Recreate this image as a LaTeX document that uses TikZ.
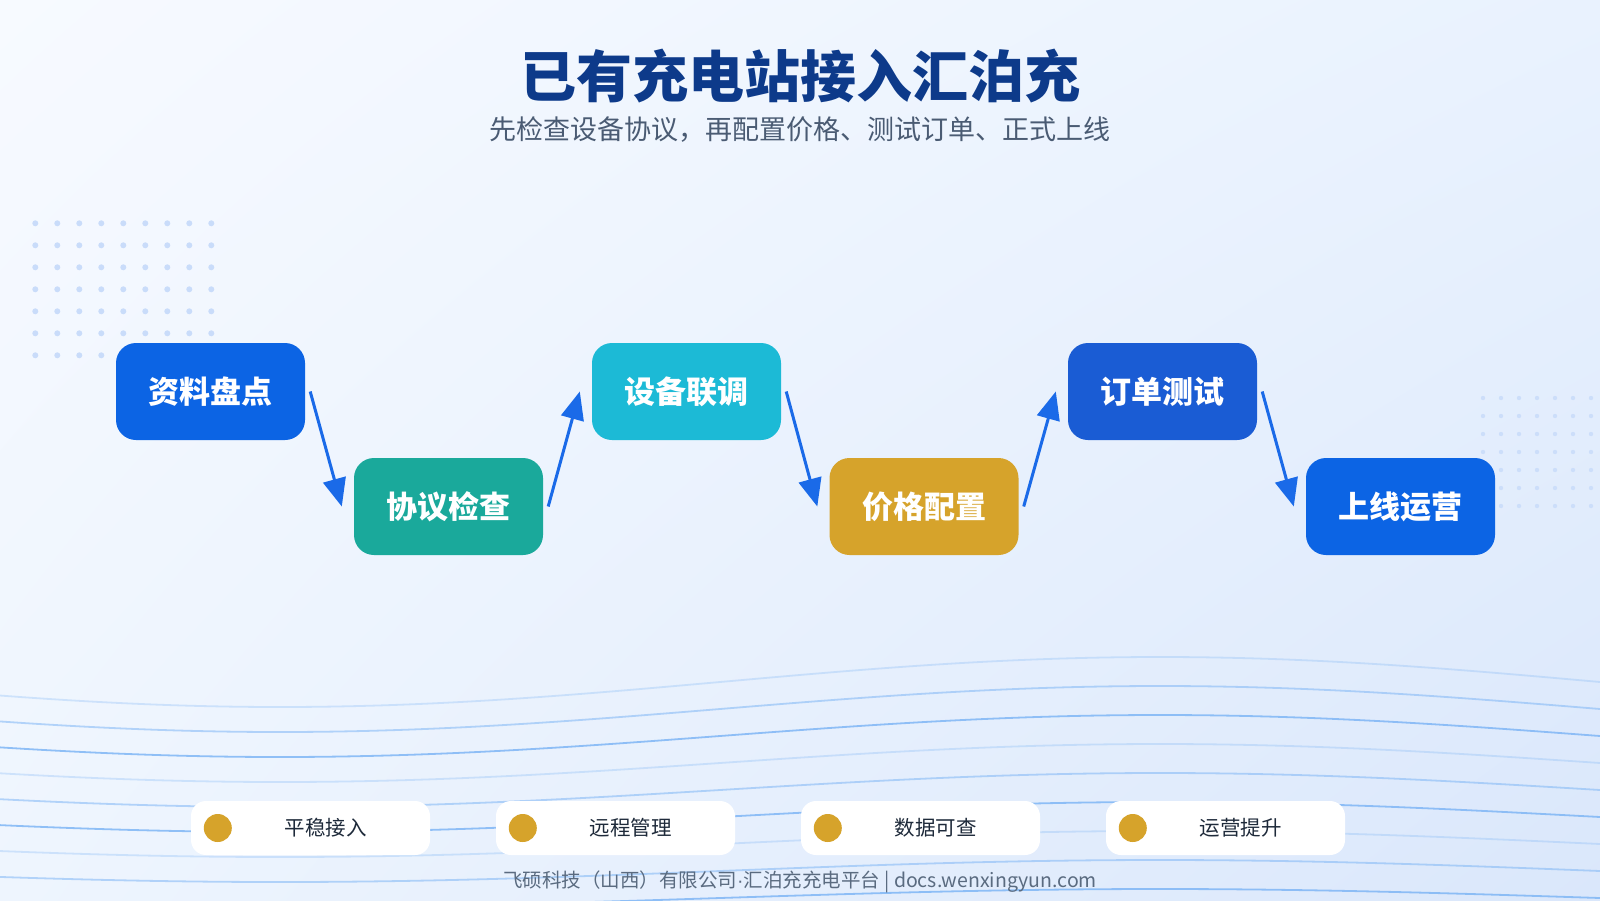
\documentclass[tikz,border=0pt]{standalone}
\usepackage{fontspec}
\setmainfont{Noto Sans CJK SC}
\newfontfamily\latinfont{Liberation Sans}
\usetikzlibrary{arrows.meta,calc,shadings}
\definecolor{bgTL}{HTML}{F7FAFF}
\definecolor{bgTR}{HTML}{E9F2FE}
\definecolor{bgBL}{HTML}{EEF5FE}
\definecolor{bgBR}{HTML}{DAE7FB}
\definecolor{titlecol}{HTML}{0D3A8A}
\definecolor{subcol}{HTML}{4A5B73}
\definecolor{footcol}{HTML}{5A6B80}
\definecolor{chiptext}{HTML}{1E2A3A}
\definecolor{cBlue}{HTML}{0C64E4}
\definecolor{cTeal}{HTML}{1AA99B}
\definecolor{cCyan}{HTML}{1CBAD6}
\definecolor{cGold}{HTML}{D6A32B}
\definecolor{cRoyal}{HTML}{1A5CD4}
\definecolor{arrowcol}{HTML}{1A6AE8}
\definecolor{dotcol}{HTML}{C9DCFA}
\definecolor{wavecol}{HTML}{7FB6F5}
\tikzset{
  stepbox/.style={minimum width=189pt, minimum height=97pt, rounded corners=20pt,
    text=white, inner sep=0pt, font=\fontsize{31}{35}\selectfont\bfseries},
  flow/.style={draw=arrowcol, line width=3pt, -{Triangle[length=28pt,width=23pt]}},
  chip/.style={fill=white, rounded corners=15pt, minimum width=239pt, minimum height=54pt, inner sep=0pt},
  chiplabel/.style={text=chiptext, font=\fontsize{20.5}{24}\selectfont, inner sep=0pt},
  wavefaint/.style={draw=wavecol, line width=1.8pt, opacity=0.3},
  wavemid/.style={draw=wavecol, line width=1.8pt, opacity=0.55},
  wavestrong/.style={draw=wavecol, line width=1.8pt, opacity=0.85},
}
\begin{document}
\begin{tikzpicture}[x=1pt,y=-1pt]
\useasboundingbox (0,0) rectangle (1600,900);
\shade[upper left=bgTL, upper right=bgTR, lower left=bgBL, lower right=bgBR] (0,0) rectangle (1600,900);
% waves
\foreach \k/\st in {0/wavefaint,1/wavemid,2/wavestrong,3/wavefaint,4/wavemid,5/wavestrong,6/wavefaint,7/wavemid,8/wavestrong}{
  \pgfmathsetmacro{\cc}{682+27*\k}
  \pgfmathsetmacro{\aa}{25-2*\k}
  \draw[\st] plot[domain=-10:1610, samples=90, smooth] (\x, {\cc + \aa*cos((\x-280)/1760*360)});
}
% dot grids
\foreach \i in {0,...,8}{
  \foreach \j in {0,...,6}{
    \fill[dotcol] (35.3+22*\i, 223.3+22*\j) circle (3pt);
  }
}
\foreach \i in {0,...,6}{
  \foreach \j in {0,...,6}{
    \fill[dotcol, opacity=0.85] (1483+18*\i, 398+18*\j) circle (2.2pt);
  }
}
% title
\node[text=titlecol, font=\fontsize{56}{60}\selectfont\bfseries, inner sep=0pt] (title) at (800,76) {已有充电站接入汇泊充};
\node[text=subcol, font=\fontsize{27}{30}\selectfont, inner sep=0pt] (sub) at (800,130) {先检查设备协议，再配置价格、测试订单、正式上线};
% steps
\node[stepbox, fill=cBlue] (s1) at (210.5,391.5) {资料盘点};
\node[stepbox, fill=cTeal] (s2) at (448.5,506.5) {协议检查};
\node[stepbox, fill=cCyan] (s3) at (686.5,391.5) {设备联调};
\node[stepbox, fill=cGold] (s4) at (924,506.5) {价格配置};
\node[stepbox, fill=cRoyal] (s5) at (1162.5,391.5) {订单测试};
\node[stepbox, fill=cBlue] (s6) at (1400.5,506.5) {上线运营};
\draw[flow] ($(s1.east)+(5,0)$) -- ($(s2.west)+(-12,0)$);
\draw[flow] ($(s2.east)+(5,0)$) -- ($(s3.west)+(-12,0)$);
\draw[flow] ($(s3.east)+(5,0)$) -- ($(s4.west)+(-12,0)$);
\draw[flow] ($(s4.east)+(5,0)$) -- ($(s5.west)+(-12,0)$);
\draw[flow] ($(s5.east)+(5,0)$) -- ($(s6.west)+(-12,0)$);
% chips
\foreach \n/\cx/\t in {1/310.5/平稳接入, 2/615.5/远程管理, 3/920.5/数据可查, 4/1225.5/运营提升}{
  \node[chip] (chip\n) at (\cx,828) {};
  \fill[cGold] ($(chip\n.west)+(27,0)$) circle (14pt);
  \node[chiplabel] (chiplabel\n) at ($(chip\n.center)+(15,0)$) {\t};
}
% footer
\node[text=footcol, font=\fontsize{19.5}{22}\selectfont, inner sep=0pt] (foot) at (800,882) {飞硕科技（山西）有限公司{\latinfont ·}汇泊充充电平台 | docs.wenxingyun.com};
\end{tikzpicture}
\end{document}
